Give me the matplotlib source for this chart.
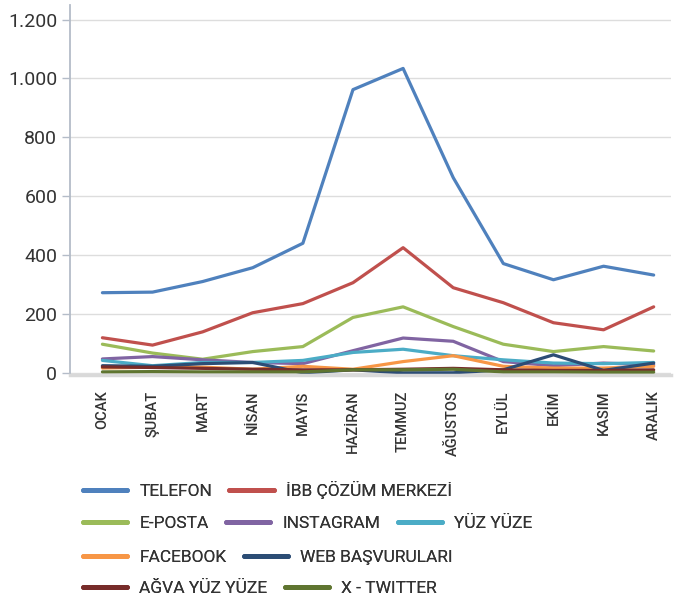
import matplotlib.pyplot as plt
from matplotlib.lines import Line2D
from matplotlib.ticker import FuncFormatter

plt.rcParams['font.family'] = ['Roboto', 'DejaVu Sans']

months = ["OCAK", "ŞUBAT", "MART", "NİSAN", "MAYIS", "HAZİRAN",
          "TEMMUZ", "AĞUSTOS", "EYLÜL", "EKİM", "KASIM", "ARALIK"]

telefon = [272, 274, 310, 357, 440, 962, 1034, 663, 371, 316, 362, 332]
ibb = [119, 94, 139, 204, 235, 306, 425, 289, 238, 170, 146, 224]
eposta = [97, 67, 46, 72, 89, 188, 224, 157, 97, 72, 89, 74]
instagram = [47, 55, 44, 35, 31, 75, 118, 107, 38, 24, 33, 27]
yuz_yuze = [42, 24, 35, 35, 42, 69, 80, 58, 44, 33, 31, 35]
facebook = [16, 19, 19, 12, 22, 12, 38, 58, 22, 16, 16, 22]
web = [24, 22, 31, 35, 0, 10, 0, 0, 10, 61, 8, 33]
agva = [20, 18, 15, 12, 10, 10, 12, 15, 10, 8, 8, 10]
twitter = [3, 4, 3, 3, 3, 10, 10, 12, 3, 3, 2, 2]

series = [
    ("TELEFON", telefon, "#4F81BD"),
    ("İBB ÇÖZÜM MERKEZİ", ibb, "#C0504D"),
    ("E-POSTA", eposta, "#9BBB59"),
    ("INSTAGRAM", instagram, "#8064A2"),
    ("YÜZ YÜZE", yuz_yuze, "#4BACC6"),
    ("FACEBOOK", facebook, "#F79646"),
    ("WEB BAŞVURULARI", web, "#2C4D75"),
    ("AĞVA YÜZ YÜZE", agva, "#772C2A"),
    ("X - TWITTER", twitter, "#5F7530"),
]

fig = plt.figure(figsize=(6.78, 6.07), dpi=100)
ax = fig.add_axes([0.103, 0.382, 0.887, 0.61])

x = list(range(len(months)))
for name, vals, color in series:
    ax.plot(x, vals, color=color, linewidth=2.3, solid_capstyle="round")

ax.set_xlim(-0.65, 11.35)
ax.set_ylim(-8, 1250)
ax.set_yticks([0, 200, 400, 600, 800, 1000, 1200])
ax.yaxis.set_major_formatter(FuncFormatter(lambda v, p: f"{int(v):,}".replace(",", ".")))
ax.set_xticks(x)
ax.set_xticklabels(months, rotation=90, fontsize=10.5, fontweight="medium",
                   color="#333333")
ax.tick_params(axis="x", length=0, pad=11)
ax.tick_params(axis="y", length=6, width=1, color="#b4bcc8", labelsize=14,
               labelcolor="#333333", pad=3)

ax.grid(axis="y", color="#dddddd", linewidth=1)
ax.set_axisbelow(True)
for s in ["top", "right"]:
    ax.spines[s].set_visible(False)
ax.spines["left"].set_color("#b4bcc8")
ax.spines["left"].set_linewidth(1.3)
ax.spines["bottom"].set_color("#d9d9d9")
ax.spines["bottom"].set_linewidth(2.5)

rows = [[0, 1], [2, 3, 4], [5, 6], [7, 8]]
row_y = [1 - 490 / 607, 1 - 523 / 607, 1 - 557 / 607, 1 - 588 / 607]
for idx, ry in zip(rows, row_y):
    handles = [Line2D([], [], color=series[i][2], linewidth=3.5, solid_capstyle="round")
               for i in idx]
    labels = [series[i][0] for i in idx]
    leg = fig.legend(handles, labels, loc="center left", bbox_to_anchor=(0.122, ry),
                     ncol=len(idx), frameon=False, fontsize=12.5, handlelength=2.55,
                     handletextpad=0.7, columnspacing=1.0, borderpad=0, borderaxespad=0)
    for t in leg.get_texts():
        t.set_color("#333333")
    fig.add_artist(leg)

fig.savefig("out.png", dpi=100)
